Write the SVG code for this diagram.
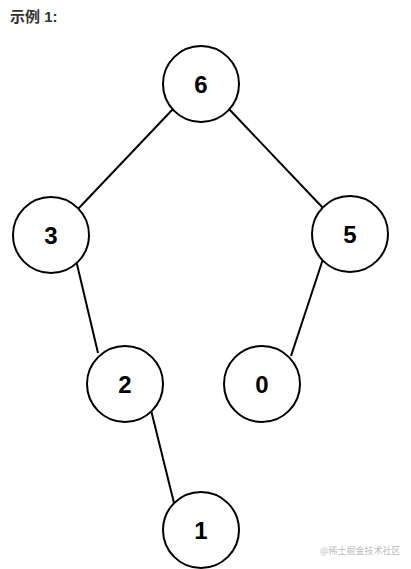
<svg xmlns="http://www.w3.org/2000/svg" width="411" height="569" viewBox="0 0 411 569">
<style>
.n circle{fill:#fff;stroke:#000;stroke-width:2}
.n text{font-family:"Liberation Sans",Arial,sans-serif;font-weight:bold;font-size:24px;text-anchor:middle;fill:#000}
#edges line{stroke:#000;stroke-width:2}
</style>
<rect width="411" height="569" fill="#fff"/>
<text x="10" y="22" font-family="'Liberation Sans','Noto Sans CJK SC',sans-serif" font-weight="bold" font-size="15" fill="#333">示例 1:</text>
<g id="edges">
<line x1="173" y1="109" x2="78" y2="209"/>
<line x1="229" y1="109" x2="323" y2="208"/>
<line x1="76" y1="260" x2="98" y2="353"/>
<line x1="323" y1="259" x2="291" y2="356"/>
<line x1="151" y1="410" x2="174" y2="503"/>
</g>
<g id="n6" class="n"><circle cx="201" cy="84" r="38"/><text x="201" y="93">6</text></g>
<g id="n3" class="n"><circle cx="51" cy="235" r="38"/><text x="51" y="244">3</text></g>
<g id="n5" class="n"><circle cx="350" cy="234" r="38"/><text x="350" y="243">5</text></g>
<g id="n2" class="n"><circle cx="125" cy="384" r="38"/><text x="125" y="393">2</text></g>
<g id="n0" class="n"><circle cx="262" cy="384" r="38"/><text x="262" y="393">0</text></g>
<g id="n1" class="n"><circle cx="201" cy="530" r="38"/><text x="201" y="539">1</text></g>
<text x="320" y="554" font-family="'Noto Sans CJK SC',sans-serif" font-size="9" fill="#bbb">@稀土掘金技术社区</text>
</svg>
